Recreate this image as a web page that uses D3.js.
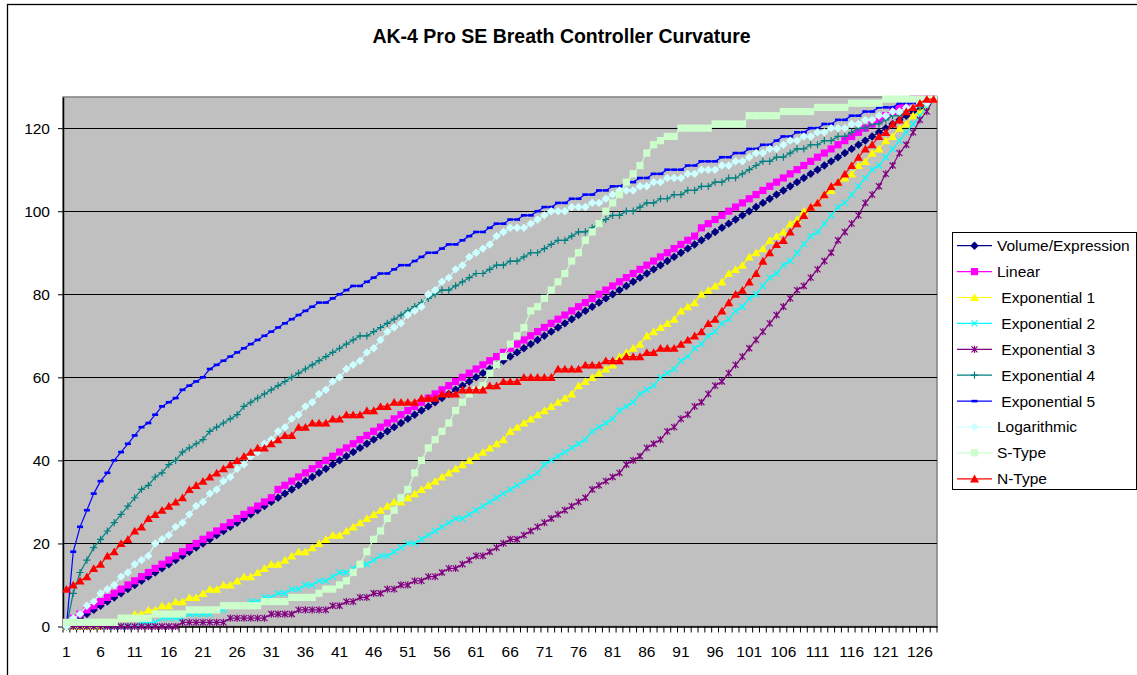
<!DOCTYPE html>
<html><head><meta charset="utf-8">
<script src="https://cdn.jsdelivr.net/npm/d3@7"></script>
<style>
body{margin:0;background:#fff}
text{font-family:Arial,"Liberation Sans",sans-serif;fill:#000}
</style>
</head><body>
<svg id="chart" width="1137" height="675"></svg>
<script>
const chartTitle = "AK-4 Pro SE Breath Controller Curvature";
const categories = d3.range(1, 129);
const xTickLabels = [1,6,11,16,21,26,31,36,41,46,51,56,61,66,71,76,81,86,91,96,101,106,111,116,121,126];
const yTicks = [0,20,40,60,80,100,120];
const seriesNames = ["Volume/Expression","Linear"," Exponential 1"," Exponential 2"," Exponential 3"," Exponential 4"," Exponential 5","Logarithmic","S-Type","N-Type"];

const volume = [0,1,2,3,4,5,6,7,8,9,10,11,12,13,14,15,16,17,18,19,20,21,22,23,24,25,26,27,28,29,30,31,32,33,34,35,36,37,38,39,40,41,42,43,44,45,46,47,48,49,50,51,52,53,54,55,56,57,58,59,60,61,62,63,64,65,66,67,68,69,70,71,72,73,74,75,76,77,78,79,80,81,82,83,84,85,86,87,88,89,90,91,92,93,94,95,96,97,98,99,100,101,102,103,104,105,106,107,108,109,110,111,112,113,114,115,116,117,118,119,120,121,122,123,124,125,126,127];
const linear = [1,2,3,4,5,6,7,8,9,10,11,12,13,14,15,16,17,18,19,20,21,22,23,24,25,26,27,28,29,30,31,33,34,35,36,37,38,39,40,41,42,43,44,45,46,47,48,49,50,51,52,53,54,55,56,57,58,59,60,61,62,63,64,65,66,67,68,69,70,71,72,73,74,75,76,77,78,79,80,81,82,83,84,85,86,87,88,89,90,91,92,93,94,96,97,98,99,100,101,102,103,104,105,106,107,108,109,110,111,112,113,114,115,116,117,118,119,120,121,122,123,124,125,126,127,127,127,127];
const exp1 = [0,0,0,0,0,0,1,1,2,2,3,
  3,4,4,5,5,6,6,7,7,8,
  9,9,10,10,11,12,12,13,14,15,
  15,16,17,18,18,19,20,21,22,22,
  23,24,25,26,27,28,29,30,30,31,
  32,33,34,35,36,37,38,39,40,41,
  42,43,44,45,47,48,49,50,51,52,
  53,54,55,56,58,59,60,61,62,63,
  65,66,67,68,70,71,72,73,74,76,
  77,78,80,81,82,83,85,86,87,89,
  90,91,93,94,95,97,98,100,101,102,
  104,105,107,108,109,111,112,114,115,117,
  118,120,121,123,124,125,127];
const exp2 = [0,0,0,0,0,0,0,0,0,0,
  0,1,1,1,2,2,2,2,3,3,
  3,3,4,4,5,5,5,6,6,7,
  7,8,8,9,9,10,10,11,11,12,
  13,13,14,15,15,16,17,17,18,19,
  20,20,21,22,23,24,25,26,26,27,
  28,29,30,31,32,33,34,35,36,37,
  39,40,41,42,43,44,45,47,48,49,
  50,52,53,54,56,57,58,60,61,62,
  64,65,67,68,70,71,73,74,76,77,
  79,80,82,84,85,87,88,90,92,94,
  95,97,99,101,102,104,106,108,110,111,
  113,115,117,119,121,123,125,127];
const exp3 = [0,0,0,0,0,0,0,0,0,0,
  0,0,0,0,0,0,0,1,1,1,
  1,1,1,1,2,2,2,2,2,2,
  3,3,3,3,4,4,4,4,4,5,
  5,6,6,7,7,8,8,9,9,10,
  10,11,11,12,12,13,14,14,15,16,
  17,17,18,19,20,21,21,22,23,24,
  25,26,27,28,29,30,31,33,34,35,
  36,37,39,40,41,43,44,45,47,48,
  50,51,53,54,56,58,59,61,63,65,
  67,69,71,73,75,77,79,81,82,84,
  86,88,90,93,95,97,99,102,104,106,
  109,111,114,116,119,122,124,127];
const exp4 = [0,8,13,16,19,21,23,25,27,29,
  31,33,34,36,37,39,40,42,43,44,
  45,47,48,49,50,51,53,54,55,56,
  57,58,59,60,61,62,63,64,65,66,
  67,68,69,70,70,71,72,73,74,75,
  76,77,78,79,80,81,81,82,83,84,
  85,85,86,87,87,88,88,89,90,90,
  91,92,93,93,94,95,95,96,97,98,
  99,99,100,100,101,102,102,103,103,104,
  104,105,105,106,106,107,107,108,108,109,
  110,111,112,112,113,113,114,115,115,116,
  116,117,117,118,118,119,120,120,121,121,
  122,123,123,124,125,125,126,127];
const exp5 = [0,18,24,28,32,35,37,40,42,44,
  46,48,49,51,53,54,55,57,58,59,
  60,62,63,64,65,66,67,68,69,70,
  71,72,73,74,75,76,77,78,78,79,
  80,81,82,82,83,84,85,85,86,87,
  87,88,89,90,90,91,92,92,93,94,
  95,95,96,97,97,98,98,99,99,100,
  101,101,102,102,103,103,104,104,105,105,
  106,106,107,107,108,108,109,109,110,110,
  110,111,111,112,112,112,113,113,114,114,
  115,115,116,116,117,118,118,119,119,120,
  120,121,121,122,122,123,123,124,124,125,
  125,125,126,126,126,127,127,127];
const logarithmic = [0,2,3,5,6,8,9,10,12,13,
  15,16,17,20,21,22,24,25,27,29,
  30,32,33,35,36,38,39,41,42,44,
  45,47,48,50,51,53,54,56,57,59,
  60,62,63,64,66,67,69,71,72,73,
  75,76,77,80,81,83,84,86,87,89,
  90,91,92,94,95,96,96,96,97,98,
  99,100,100,100,101,101,101,102,102,103,
  104,105,105,105,106,106,107,107,108,108,
  108,109,109,110,110,110,111,111,112,112,
  113,114,114,115,115,116,117,117,118,118,
  119,119,120,120,120,121,121,122,122,123,
  123,124,124,125,125,126,126,127];
const sType = [1,1,1,1,1,1,1,1,2,2,
  2,2,2,3,3,3,3,3,4,4,
  4,4,4,5,5,5,5,5,5,6,
  6,6,6,7,7,7,7,8,9,9,
  10,11,13,15,18,21,23,26,28,31,
  33,37,40,43,45,47,49,52,54,56,
  57,58,61,63,65,68,70,72,76,77,
  79,81,83,85,88,90,93,95,97,100,
  102,104,107,109,111,114,116,117,118,118,
  120,120,120,120,120,121,121,121,121,121,
  123,123,123,123,123,124,124,124,124,124,
  125,125,125,125,125,126,126,126,126,126,
  127,127,127,127,127,127,127,127];
const nType = [9,10,11,12,14,15,17,18,20,21,
  23,24,26,27,28,29,30,31,33,34,
  35,36,37,38,39,40,41,42,43,43,
  44,45,46,46,48,48,49,49,49,50,
  50,51,51,51,52,52,53,53,54,54,
  54,54,55,55,55,56,56,56,57,57,
  57,57,58,58,59,59,59,60,60,60,
  60,60,62,62,62,62,63,63,63,64,
  64,64,65,65,65,66,66,67,67,67,
  68,69,70,71,73,74,76,78,80,81,
  83,85,88,90,92,93,95,97,99,101,
  102,104,106,107,109,111,113,115,116,118,
  119,121,122,124,125,126,127,127];

const seriesValues = [volume, linear, exp1, exp2, exp3, exp4, exp5, logarithmic, sType, nType];
const seriesColors = ["#000080","#FF00FF","#FFFF00","#00FFFF","#800080","#008080","#0000FF","#CCFFFF","#CCFFCC","#FF0000"];
const seriesMarkers = ["diamond","square","triangle","x","star","plus","dash","diamond","square","triangle"];

const markerPaths = {
  diamond: "M0,-4.2L4.2,0L0,4.2L-4.2,0Z",
  square: "M-3.6,-3.6h7.2v7.2h-7.2Z",
  triangle: "M0,-4.2L4.5,3.6L-4.5,3.6Z",
  x: "M-3,-3L3,3M-3,3L3,-3",
  star: "M-3,-3L3,3M-3,3L3,-3M0,-3.6V3.6",
  plus: "M-3.6,0H3.6M0,-3.6V3.6",
  dash: "M-3,-1.3h6v2.6h-6Z"
};
const strokedMarkers = new Set(["x","star","plus"]);

const svg = d3.select("#chart");
const L = 63, R = 937, T = 97, B = 626.5;

const x = d3.scaleBand().domain(categories).range([L, R]).padding(0);
const y = d3.scaleLinear().domain([0, 127.5]).range([B, T]);
const cx = c => x(c) + x.bandwidth() / 2;

// outer chart border
svg.append("rect").attr("x", 7.5).attr("y", 4.5).attr("width", 1200).attr("height", 800)
  .attr("fill", "none").attr("stroke", "#000").attr("stroke-width", 1.3);

svg.append("text").attr("x", 561.5).attr("y", 43).attr("text-anchor", "middle")
  .style("font-size", "19.5px").style("font-weight", "bold").text(chartTitle);

// plot area
svg.append("rect").attr("x", L).attr("y", T).attr("width", R - L).attr("height", B - T)
  .attr("fill", "#C0C0C0").attr("stroke", "#808080").attr("stroke-width", 1.5);

// gridlines
svg.append("g").selectAll("line").data(yTicks.filter(d => d > 0)).join("line")
  .attr("x1", L).attr("x2", R).attr("y1", d => Math.round(y(d)) + 0.5).attr("y2", d => Math.round(y(d)) + 0.5)
  .attr("stroke", "#000").attr("stroke-width", 1.2);

// y axis
const yAxis = svg.append("g").attr("transform", `translate(${L},0)`)
  .call(d3.axisLeft(y).tickValues(yTicks).tickSize(5).tickSizeOuter(0).tickPadding(8));
yAxis.select(".domain").attr("stroke", "#000").attr("stroke-width", 1.5);
yAxis.selectAll("text").style("font-size", "15.5px").style("font-family", "Arial, 'Liberation Sans', sans-serif");

// x axis labels
const xAxis = svg.append("g").attr("transform", `translate(0,${B})`)
  .call(d3.axisBottom(x).tickValues(xTickLabels).tickSize(0).tickSizeOuter(0).tickPadding(19));
xAxis.select(".domain").attr("stroke", "#000").attr("stroke-width", 1.5);
xAxis.selectAll("text").style("font-size", "15.5px").style("font-family", "Arial, 'Liberation Sans', sans-serif");
// category tick marks between categories
svg.append("g").selectAll("line").data(categories.concat([null])).join("line")
  .attr("x1", d => d === null ? R : x(d)).attr("x2", d => d === null ? R : x(d))
  .attr("y1", B).attr("y2", B + 6).attr("stroke", "#000").attr("stroke-width", 1);

// series
const line = d3.line().x((d, i) => cx(categories[i])).y(d => y(d));
seriesValues.forEach((vals, k) => {
  const g = svg.append("g");
  g.append("path").datum(vals).attr("d", line).attr("fill", "none")
    .attr("stroke", seriesColors[k]).attr("stroke-width", 1.2);
  const m = seriesMarkers[k];
  g.selectAll("path.mk").data(vals).join("path").attr("class", "mk")
    .attr("transform", (d, i) => `translate(${cx(categories[i])},${y(d)})`)
    .attr("d", markerPaths[m])
    .attr("fill", strokedMarkers.has(m) ? "none" : seriesColors[k])
    .attr("stroke", strokedMarkers.has(m) ? seriesColors[k] : "none")
    .attr("stroke-width", 1.2);
});

// legend
const lg = svg.append("g");
lg.append("rect").attr("x", 952.5).attr("y", 232.5).attr("width", 184).attr("height", 257)
  .attr("fill", "#fff").attr("stroke", "#000").attr("stroke-width", 1);
seriesNames.forEach((name, k) => {
  const yy = 245.7 + k * 25.9;
  lg.append("line").attr("x1", 957).attr("x2", 992).attr("y1", yy).attr("y2", yy)
    .attr("stroke", seriesColors[k]).attr("stroke-width", 1.2);
  const m = seriesMarkers[k];
  lg.append("path").attr("transform", `translate(974.5,${yy})`).attr("d", markerPaths[m])
    .attr("fill", strokedMarkers.has(m) ? "none" : seriesColors[k])
    .attr("stroke", strokedMarkers.has(m) ? seriesColors[k] : "none").attr("stroke-width", 1.2);
  lg.append("text").attr("x", 997).attr("y", yy).attr("dy", "0.35em")
    .style("font-size", "15.5px").style("white-space", "pre").text(name);
});
</script>
</body></html>
